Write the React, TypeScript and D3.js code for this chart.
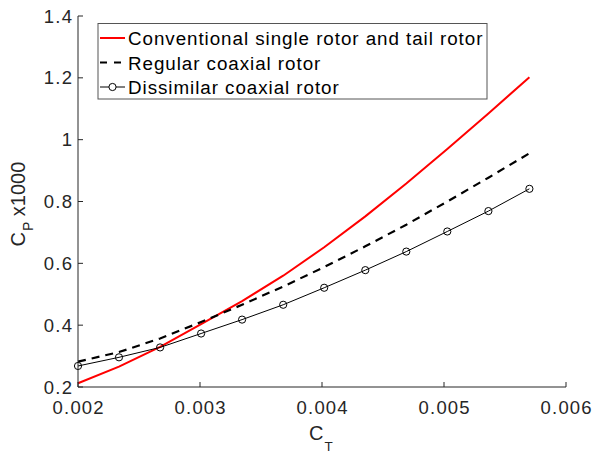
import React from "react";
import * as d3 from "d3";

const ctValues = [0.002, 0.002336, 0.002673, 0.003009, 0.003345, 0.003682, 0.004018, 0.004355, 0.004691, 0.005027, 0.005364, 0.0057];
const conventional = [0.212, 0.266, 0.330, 0.403, 0.478, 0.560, 0.652, 0.752, 0.858, 0.970, 1.085, 1.202];
const regularCoaxial = [0.282, 0.313, 0.357, 0.410, 0.466, 0.525, 0.588, 0.655, 0.725, 0.800, 0.877, 0.956];
const dissimilarCoaxial = [0.268, 0.296, 0.328, 0.373, 0.418, 0.466, 0.521, 0.578, 0.638, 0.703, 0.769, 0.841];

const xTicks = [0.002, 0.003, 0.004, 0.005, 0.006];
const xTickLabels = ["0.002", "0.003", "0.004", "0.005", "0.006"];
const yTicks = [0.2, 0.4, 0.6, 0.8, 1.0, 1.2, 1.4];
const yTickLabels = ["0.2", "0.4", "0.6", "0.8", "1", "1.2", "1.4"];
const legendLabels = ["Conventional single rotor and tail rotor", "Regular coaxial rotor", "Dissimilar coaxial rotor"];

const W = 593;
const H = 453;
const axisColor = "#262626";
const FONT = "'Liberation Sans', Arial, Helvetica, sans-serif";

export default function App() {
  const x = d3.scaleLinear().domain([0.002, 0.006]).range([78, 566]);
  const y = d3.scaleLinear().domain([0.2, 1.4]).range([387, 16]);

  const line = d3
    .line<[number, number]>()
    .x((d) => x(d[0]))
    .y((d) => y(d[1]));

  const pts = (vals: number[]) => ctValues.map((c, i) => [c, vals[i]] as [number, number]);

  const legendRowY = [38, 62.5, 87];

  return (
    <svg
      width={W}
      height={H}
      style={{ position: "absolute", left: 0, top: 0, background: "#fff" }}
      fontFamily={FONT}
    >
      <rect x={0} y={0} width={W} height={H} fill="#fff" />
      {/* data */}
      <path d={line(pts(conventional)) || ""} fill="none" stroke="#ff0000" strokeWidth={2} />
      <path
        d={line(pts(regularCoaxial)) || ""}
        fill="none"
        stroke="#000"
        strokeWidth={2.2}
        strokeDasharray="8,6"
      />
      <path d={line(pts(dissimilarCoaxial)) || ""} fill="none" stroke="#000" strokeWidth={1} />
      {pts(dissimilarCoaxial).map((d, i) => (
        <circle key={i} cx={x(d[0])} cy={y(d[1])} r={3.6} fill="none" stroke="#000" strokeWidth={1} />
      ))}

      {/* axes */}
      <line x1={78} x2={78} y1={y(1.4)} y2={y(0.2)} stroke={axisColor} strokeWidth={1} />
      <line x1={78} x2={x(0.006)} y1={387} y2={387} stroke={axisColor} strokeWidth={1} />
      {xTicks.map((t, i) => (
        <g key={"xt" + i}>
          <line x1={x(t)} x2={x(t)} y1={387} y2={382} stroke={axisColor} strokeWidth={1} />
          <text
            x={x(t) + 0.7}
            y={414}
            textAnchor="middle"
            fontSize={18.5}
            letterSpacing={1.2}
            fill={axisColor}
          >
            {xTickLabels[i]}
          </text>
        </g>
      ))}
      {yTicks.map((t, i) => (
        <g key={"yt" + i}>
          <line x1={78} x2={83} y1={y(t)} y2={y(t)} stroke={axisColor} strokeWidth={1} />
          <text
            x={72 + 1.2}
            y={y(t) + 6.6}
            textAnchor="end"
            fontSize={18.5}
            letterSpacing={1.2}
            fill={axisColor}
          >
            {yTickLabels[i]}
          </text>
        </g>
      ))}

      {/* axis labels */}
      <text x={309} y={440} fontSize={20} fill={axisColor}>
        C
        <tspan fontSize={13.5} dx={1} dy={10.5}>T</tspan>
      </text>
      <text transform={`translate(25,246.5) rotate(-90)`} fontSize={20} fill={axisColor}>
        C
        <tspan fontSize={14} dx={1} dy={8}>P</tspan>
        <tspan dy={-8} fontSize={20}>{" x1000"}</tspan>
      </text>

      {/* legend */}
      <rect x={98} y={23.5} width={389} height={75.5} fill="#fff" stroke="#555" strokeWidth={1} />
      <line x1={100} x2={125} y1={legendRowY[0]} y2={legendRowY[0]} stroke="#ff0000" strokeWidth={2} />
      <line
        x1={100}
        x2={125}
        y1={legendRowY[1]}
        y2={legendRowY[1]}
        stroke="#000"
        strokeWidth={2.2}
        strokeDasharray="7,7"
      />
      <line x1={100} x2={125} y1={legendRowY[2]} y2={legendRowY[2]} stroke="#000" strokeWidth={1} />
      <circle cx={112.5} cy={legendRowY[2]} r={3.6} fill="#fff" stroke="#000" strokeWidth={1} />
      {legendLabels.map((lab, i) => (
        <text key={lab} x={128} y={legendRowY[i] + 7} fontSize={18.8} letterSpacing={0.95} fill="#000">
          {lab}
        </text>
      ))}
    </svg>
  );
}
